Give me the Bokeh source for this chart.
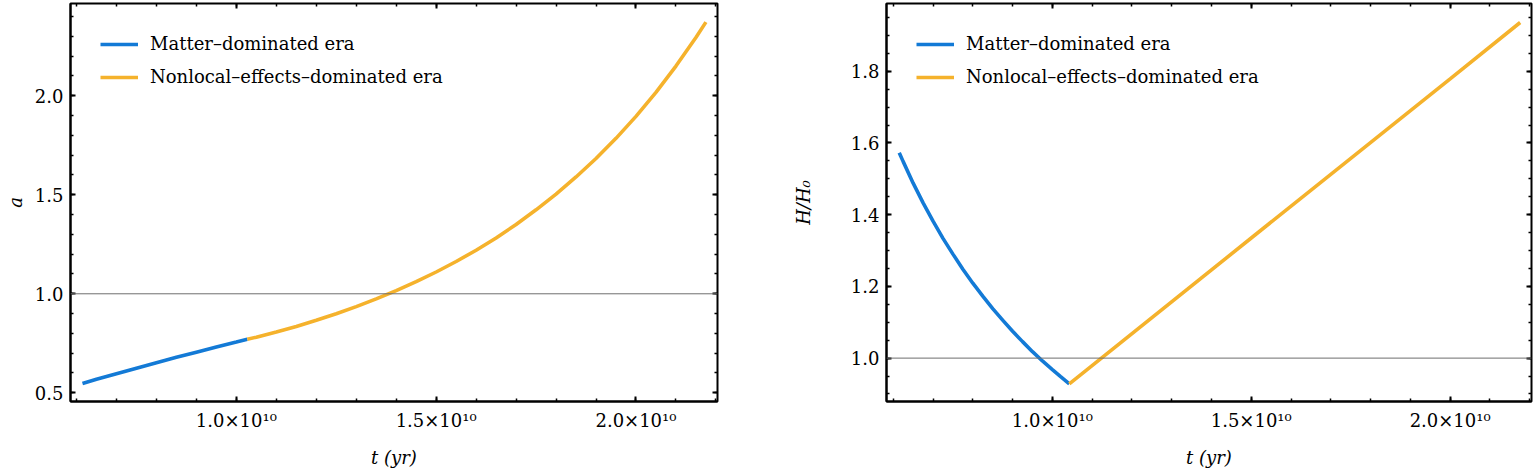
from bokeh.plotting import figure
from bokeh.models import FixedTicker, LinearAxis, Span, Legend, LegendItem, Range1d
from bokeh.layouts import row
from bokeh.embed import file_html
from bokeh.resources import INLINE

# ---------------- data ----------------
# left panel: scale factor a(t)
t_matter_a = [0.615e10, 0.65e10, 0.70e10, 0.75e10, 0.80e10, 0.85e10, 0.90e10,
              0.95e10, 1.00e10, 1.0275e10]
a_matter = [0.547, 0.568, 0.596, 0.624, 0.652, 0.679, 0.705, 0.731, 0.756, 0.770]
t_nonlocal_a = [1.0275e10, 1.05e10, 1.1e10, 1.15e10, 1.2e10, 1.25e10, 1.3e10,
                1.35e10, 1.4e10, 1.45e10, 1.5e10, 1.55e10, 1.6e10, 1.65e10,
                1.7e10, 1.75e10, 1.8e10, 1.85e10, 1.9e10, 1.95e10, 2.0e10,
                2.05e10, 2.1e10, 2.15e10, 2.175e10]
a_nonlocal = [0.770, 0.781, 0.807, 0.835, 0.866, 0.899, 0.935,
              0.974, 1.016, 1.061, 1.110, 1.163, 1.220, 1.282,
              1.350, 1.424, 1.503, 1.590, 1.683, 1.785, 1.896,
              2.017, 2.150, 2.294, 2.372]

# right panel: H/H0
t_matter_h = [0.615e10, 0.625e10, 0.65e10, 0.675e10, 0.70e10, 0.725e10, 0.75e10,
              0.775e10, 0.80e10, 0.825e10, 0.85e10, 0.875e10, 0.90e10,
              0.925e10, 0.95e10, 0.975e10, 1.00e10, 1.02e10, 1.0426e10]
h_matter = [1.573, 1.548, 1.488, 1.433, 1.382, 1.334, 1.290,
            1.248, 1.209, 1.173, 1.138, 1.106, 1.075,
            1.046, 1.018, 0.992, 0.968, 0.949, 0.928]
t_nonlocal_h = [1.0426e10, 1.5e10, 2.0e10, 2.176e10]
h_nonlocal = [0.928, 1.335, 1.779, 1.936]

reference_level = 1.0

x_major = [1.0e10, 1.5e10, 2.0e10]
x_labels = ["1.0×10¹⁰", "1.5×10¹⁰", "2.0×10¹⁰"]
x_minor = [i * 0.1e10 for i in range(5, 23)]

a_major = [0.5, 1.0, 1.5, 2.0]
a_labels = ["0.5", "1.0", "1.5", "2.0"]
a_minor = [round(0.4 + i * 0.1, 2) for i in range(0, 22)]

h_major = [1.0, 1.2, 1.4, 1.6, 1.8]
h_labels = ["1.0", "1.2", "1.4", "1.6", "1.8"]
h_minor = [round(0.85 + i * 0.05, 3) for i in range(0, 24)]

legend_labels = ["Matter–dominated era", "Nonlocal–effects–dominated era"]

BLUE = "#137ad6"
YELLOW = "#f5b22c"
SERIF = "DejaVu Serif"


def style_main_axis(ax, ticks, minor, labels):
    ax.ticker = FixedTicker(ticks=ticks, minor_ticks=minor)
    ax.major_label_overrides = {t: l for t, l in zip(ticks, labels)}
    ax.axis_line_color = "black"
    ax.axis_line_width = 2
    ax.major_tick_in = 5
    ax.major_tick_out = 0
    ax.minor_tick_in = 3
    ax.minor_tick_out = 0
    ax.major_tick_line_width = 2
    ax.minor_tick_line_width = 1.5
    ax.major_tick_line_color = "black"
    ax.minor_tick_line_color = "black"
    ax.major_label_text_font = SERIF
    ax.major_label_text_font_size = "18px"
    ax.major_label_text_color = "black"
    ax.axis_label_text_font = SERIF
    ax.axis_label_text_font_style = "italic"
    ax.axis_label_text_font_size = "18px"
    ax.axis_label_text_color = "black"


def tick_only_axis(positions, length, width):
    # an unlabeled axis that only draws inward tick marks (mirror side of the frame)
    ax = LinearAxis(ticker=FixedTicker(ticks=[], minor_ticks=positions))
    ax.axis_line_color = None
    ax.major_tick_line_color = None
    ax.minor_tick_in = length
    ax.minor_tick_out = 0
    ax.minor_tick_line_width = width
    ax.minor_tick_line_color = "black"
    ax.major_label_standoff = 0
    return ax


def make_panel(x_range, y_range, t1, y1, t2, y2, y_ticks, y_minor, y_labels,
               y_label, width, border_left, border_right, ylabel_standoff):
    p = figure(width=width, height=470, output_backend="svg", toolbar_location=None,
               x_range=Range1d(*x_range), y_range=Range1d(*y_range),
               min_border_left=border_left, min_border_right=border_right,
               min_border_top=3, min_border_bottom=20)
    p.grid.visible = False
    p.outline_line_color = "black"
    p.outline_line_width = 2
    p.background_fill_color = "white"
    p.border_fill_color = "white"

    p.add_layout(Span(location=reference_level, dimension="width",
                      line_color="#6e6e6e", line_width=1))

    r1 = p.line(t1, y1, line_color=BLUE, line_width=3.6)
    r2 = p.line(t2, y2, line_color=YELLOW, line_width=3.6)

    xa = p.xaxis[0]
    style_main_axis(xa, x_major, x_minor, x_labels)
    xa.major_label_standoff = 8
    xa.axis_label = "t (yr)"
    xa.axis_label_standoff = 13
    ya = p.yaxis[0]
    style_main_axis(ya, y_ticks, y_minor, y_labels)
    ya.major_label_standoff = 7
    ya.axis_label = y_label
    ya.axis_label_standoff = ylabel_standoff

    p.add_layout(tick_only_axis(x_minor, 3, 1.5), "above")
    p.add_layout(tick_only_axis(x_major, 5, 2), "above")
    p.add_layout(tick_only_axis(y_minor, 3, 1.5), "right")
    p.add_layout(tick_only_axis(y_ticks, 5, 2), "right")

    legend = Legend(items=[LegendItem(label=legend_labels[0], renderers=[r1]),
                           LegendItem(label=legend_labels[1], renderers=[r2])],
                    location="top_left")
    legend.background_fill_alpha = 0
    legend.border_line_alpha = 0
    legend.label_text_font = SERIF
    legend.label_text_font_size = "18px"
    legend.label_text_color = "black"
    legend.glyph_width = 38
    legend.glyph_height = 20
    legend.label_height = 20
    legend.spacing = 12
    legend.padding = 8
    legend.margin = 22
    legend.label_standoff = 12
    p.add_layout(legend)
    return p


p_left = make_panel((0.585e10, 2.204e10), (0.456, 2.466),
                    t_matter_a, a_matter, t_nonlocal_a, a_nonlocal,
                    a_major, a_minor, a_labels, "a", 789, 70, 72, 6)
p_right = make_panel((0.583e10, 2.2045e10), (0.879, 1.989),
                     t_matter_h, h_matter, t_nonlocal_h, h_nonlocal,
                     h_major, h_minor, h_labels, "H/H₀", 747, 92, 5, 34)

layout = row(p_left, p_right)
open("out.html", "w").write(file_html(layout, INLINE))
